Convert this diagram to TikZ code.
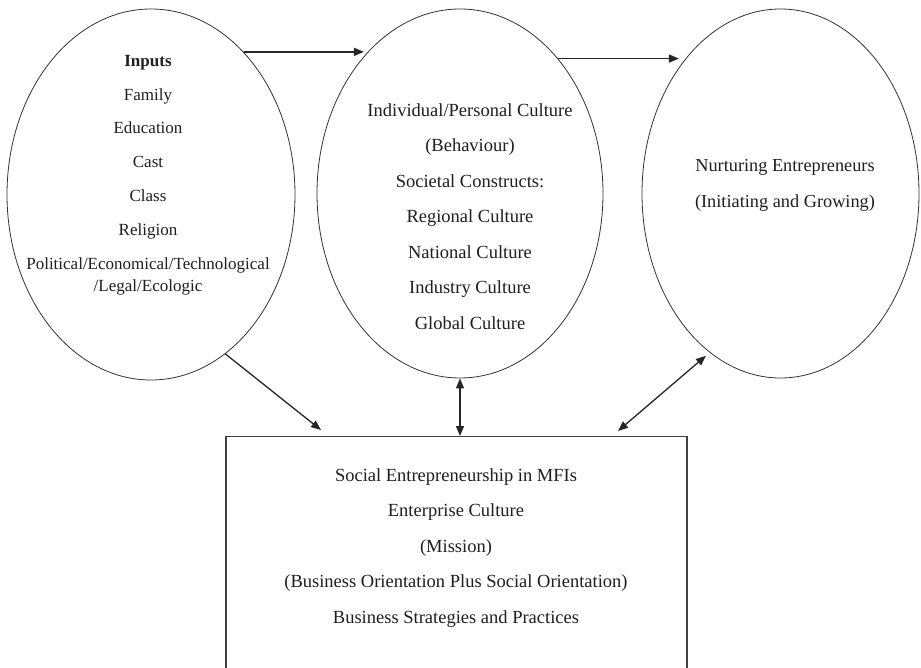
\documentclass[tikz,border=0pt]{standalone}
\usepackage{fontspec}
\setmainfont{Liberation Serif}
\usetikzlibrary{arrows.meta,shapes.geometric,calc}
\begin{document}
\begin{tikzpicture}[x=1pt,y=-1pt,
  oval/.style={ellipse,draw=black!80,line width=0.8pt,inner sep=0pt},
  txt/.style={align=center,inner sep=0pt,text=black!88},
  arr/.style={line width=1.3pt,draw=black!85,-{Triangle[length=10pt,width=8pt]}},
  darr/.style={line width=1.3pt,draw=black!85,{Triangle[length=10pt,width=8pt]}-{Triangle[length=10pt,width=8pt]}},
  boxst/.style={draw=black!75,line width=1.2pt,inner sep=0pt,minimum width=461pt,minimum height=280pt}]
\useasboundingbox (0,0) rectangle (921,668);
\fill[white] (0,0) rectangle (921,668);

\node[oval,minimum width=288pt,minimum height=371pt] (e1) at (151,194.5) {};
\node[oval,minimum width=286pt,minimum height=369pt] (e2) at (460,193.5) {};
\node[oval,minimum width=277pt,minimum height=369pt] (e3) at (780.5,193.5) {};

\begin{scope}
\clip (0,0) rectangle (921,668);
\node[boxst,anchor=north] (box) at (456.5,436) {};
\end{scope}

\node[txt,font=\fontsize{17}{33.8}\selectfont] (t1) at (148,175)
  {\textbf{Inputs}\\Family\\Education\\Cast\\Class\\Religion\\Political/Economical/Technological\\[-11.8pt]/Legal/Ecologic};
\node[txt,font=\fontsize{18.5}{35.5}\selectfont] (t2) at (470,216.5)
  {Individual/Personal Culture\\(Behaviour)\\Societal Constructs:\\Regional Culture\\National Culture\\Industry Culture\\Global Culture};
\node[txt,font=\fontsize{18.3}{35.5}\selectfont] (t3) at (785,185.5)
  {Nurturing Entrepreneurs\\(Initiating and Growing)};
\node[txt,font=\fontsize{18.5}{35.5}\selectfont] (t4) at (456,548)
  {Social Entrepreneurship in MFIs\\Enterprise Culture\\(Mission)\\(Business Orientation Plus Social Orientation)\\Business Strategies and Practices};

\coordinate (d1) at (321,430);
\coordinate (d3) at (618,431);

\draw[arr,shorten >=4pt] (e1.57) -- (e1.57 -| e2.123);
\draw[arr,shorten >=5pt] (e2.54) -- (e2.54 -| e3.126);
\draw[arr] (e1.295) -- (d1);
\draw[darr] (e2.south) -- (e2.south |- box.north);
\draw[darr,shorten >=5pt] (d3) -- (e3.246);
\end{tikzpicture}
\end{document}
